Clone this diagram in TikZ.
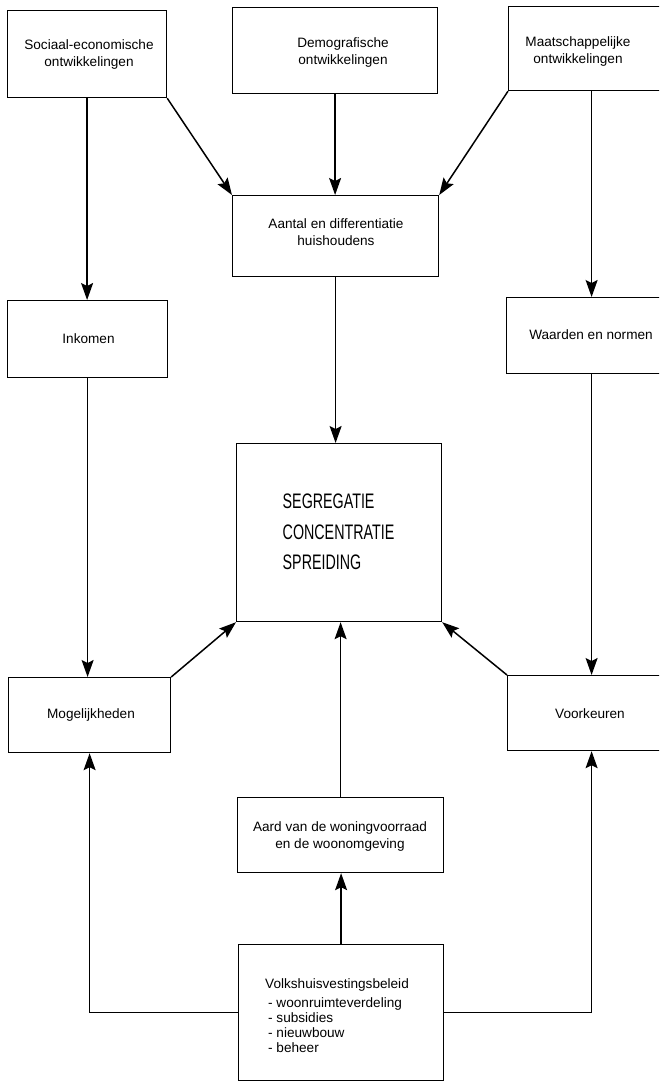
\documentclass[tikz,border=0pt]{standalone}
\usepackage{fontspec}
\setmainfont{Liberation Sans}
\newfontfamily\condfont[FakeStretch=0.68]{Liberation Sans}
\usetikzlibrary{arrows.meta}
\begin{document}
\begin{tikzpicture}[x=1pt,y=-1pt,
  boxst/.style={draw, line width=1.2pt, rectangle, inner sep=0pt, anchor=north west},
  txt/.style={font=\fontsize{13.6}{17}\selectfont, align=center, inner sep=0pt},
  arr/.style={line width=1.5pt, -{Stealth[length=17pt,width=12pt,inset=3pt]}}]
\useasboundingbox (0,0) rectangle (659,1082);
\clip (0,0) rectangle (659,1082);

% boxes
\node[boxst, minimum width=159, minimum height=87] (soc) at (7,10) {};
\node[boxst, minimum width=205, minimum height=86] (dem) at (232,7) {};
\node[boxst, minimum width=166, minimum height=84] (maat) at (508,6) {};
\node[boxst, minimum width=206, minimum height=81] (aan) at (232,195) {};
\node[boxst, minimum width=160, minimum height=77] (ink) at (7,300) {};
\node[boxst, minimum width=170, minimum height=76] (waa) at (506,297) {};
\node[boxst, minimum width=205, minimum height=178] (seg) at (236,443) {};
\node[boxst, minimum width=162, minimum height=75] (mog) at (8,677) {};
\node[boxst, minimum width=168, minimum height=75] (voo) at (507,675) {};
\node[boxst, minimum width=206, minimum height=75] (aard) at (237,797) {};
\node[boxst, minimum width=205, minimum height=136] (volks) at (238,944) {};

% texts
\node[txt] (socT) at (89,54) {Sociaal-economische\\ontwikkelingen};
\node[txt] (demT) at (343,52) {Demografische\\ontwikkelingen};
\node[txt] (maatT) at (578,51) {Maatschappelijke\\ontwikkelingen};
\node[txt] (aanT) at (336,232) {Aantal en differentiatie\\huishoudens};
\node[txt] (inkT) at (88.5,339) {Inkomen};
\node[txt] (waaT) at (591,335) {Waarden en normen};
\node[font=\condfont\fontsize{21}{30.5}\selectfont, align=left, inner sep=0pt] (segT) at (338.5,532) {SEGREGATIE\\CONCENTRATIE\\SPREIDING};
\node[txt] (mogT) at (91,715) {Mogelijkheden};
\node[txt] (vooT) at (590,714) {Voorkeuren};
\node[txt] (aardT) at (340,836) {Aard van de woningvoorraad\\en de woonomgeving};
\node[txt, font=\fontsize{13.6}{15}\selectfont, align=left, anchor=north west] (volT) at (265,978)
  {Volkshuisvestingsbeleid\\[4pt]\hspace*{3pt}- woonruimteverdeling\\\hspace*{3pt}- subsidies\\\hspace*{3pt}- nieuwbouw\\\hspace*{3pt}- beheer};

% connectors
\draw[arr] (soc.south) -- (soc.south |- ink.north);
\draw[arr] (soc.south east) -- (aan.north west);
\draw[arr] (dem.south) -- (dem.south |- aan.north);
\draw[arr] (maat.south west) -- (aan.north east);
\draw[arr] (maat.south) -- (maat.south |- waa.north);
\draw[arr] (aan.south) -- (aan.south |- seg.north);
\draw[arr] (ink.south) -- (ink.south |- mog.north);
\draw[arr] (waa.south) -- (waa.south |- voo.north);
\draw[arr] (mog.north east) -- (seg.south west);
\draw[arr] (voo.north west) -- (seg.south east);
\draw[arr] (aard.north) -- (aard.north |- seg.south);
\draw[arr] (volks.north) -- (volks.north |- aard.south);
\draw[arr] (volks.west) -| (mog.south);
\draw[arr] (volks.east) -| (voo.south);
\end{tikzpicture}
\end{document}
